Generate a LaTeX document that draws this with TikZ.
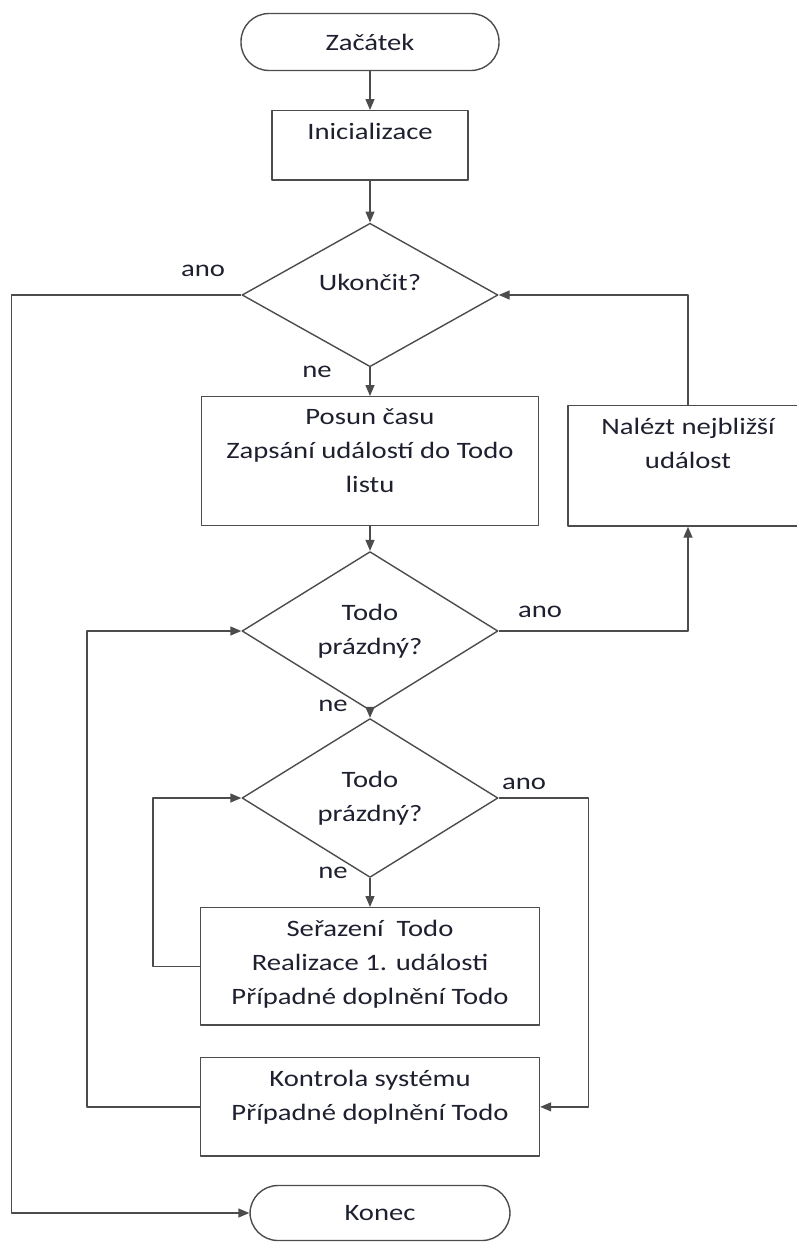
\documentclass[tikz,border=0pt]{standalone}
\usepackage{fontspec}
\setmainfont{Carlito}[FakeStretch=1.22]
\usetikzlibrary{shapes.geometric,arrows.meta,positioning}
\definecolor{txt}{RGB}{30,32,48}
\begin{document}
\begin{tikzpicture}[x=1pt, y=-1pt, font=\fontsize{23.5}{34}\selectfont, text=txt, line width=1.4pt, line join=round, >={Triangle[length=11pt,width=9pt]},
	term/.style={draw=black!70, rectangle, rounded corners=28, minimum width=258, minimum height=57, inner sep=0},
	box/.style={draw=black!70, rectangle, anchor=north, align=center, inner xsep=4, inner ysep=12},
	dec/.style={draw=black!70, diamond, inner sep=0, minimum width=256, minimum height=137, align=center},
	conn/.style={draw=black!70, ->}]
		\def\cx{370}
		\useasboundingbox (0,0) rectangle (797,1242);
		\clip (0,0) rectangle (797,1242);
		% main column
		\node[term] (start) at (\cx,42) {Začátek};
		\node[box, minimum width=196, text depth=29] (init) at (\cx,110) {Inicializace};
		\node[dec, text depth=25] (q1) at (\cx,295) {Ukončit?};
		\node[box, minimum width=337, text depth=21] (posun) at (\cx,396) {Posun času\\Zapsání událostí do Todo\\listu};
		\node[box, minimum width=240, text depth=46] (find) at (688,405) {Nalézt nejbližší\\událost};
		\node[dec] (q2) at (\cx,631) {Todo\\prázdný?};
		\node[dec] (q3) at (\cx,798) {Todo\\prázdný?};
		\node[box, minimum width=339, text depth=9] (sort) at (\cx,907) {Seřazení~ Todo\\Realizace 1. události\\Případné doplnění Todo};
		\node[box, minimum width=339, text depth=24] (check) at (\cx,1057) {Kontrola systému\\Případné doplnění Todo};
		\node[term, minimum width=260, minimum height=55] (end) at (380,1213) {Konec};
		% labels
		\node (ano1) at (203,271) {ano};
		\node (ne1) at (317,372) {ne};
		\node (ano2) at (540,612) {ano};
		\node (ne2) at (333,706) {ne};
		\node (ano3) at (524,784) {ano};
		\node (ne3) at (333,873) {ne};
		% connectors
		\draw[conn] (start.south) -- (init.north);
		\draw[conn] (init.south) -- (q1.north);
		\draw[conn] (q1.south) -- (posun.north);
		\draw[conn] (q1.west) -- ++(-230,0) |- (end.west);
		\draw[conn] (posun.south) -- (q2.north);
		\draw[conn] (q2.east) -| (find.south);
		\draw[conn] (find.north) |- (q1.east);
		\draw[conn] (q2.south) -- (q3.north);
		\draw[conn] (q3.south) -- (sort.north);
		\draw[conn] (sort.west) -- ++(-47,0) |- (q3.west);
		\draw[conn] (q3.east) -- ++(90,0) |- (check.east);
		\draw[conn] (check.west) -- ++(-113,0) |- (q2.west);
\end{tikzpicture}
\end{document}
